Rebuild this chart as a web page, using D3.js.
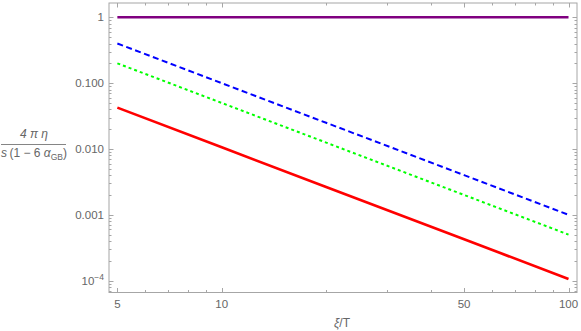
<!DOCTYPE html>
<html>
<head>
<meta charset="utf-8">
<script src="https://cdn.jsdelivr.net/npm/d3@7"></script>
<style>
  body { margin: 0; background: #fff; }
  svg { display: block; font-family: "Liberation Sans", Arial, sans-serif; }
</style>
</head>
<body>
<svg id="chart" width="581" height="331"></svg>
<script>
// ---- data ----
const xValues = [5, 10, 20, 50, 100];
const purpleSeries = [1, 1, 1, 1, 1];
const blueSeries = [0.4, 0.1, 0.025, 0.004, 0.001];
const greenSeries = [0.2, 0.05, 0.0125, 0.002, 0.0005];
const redSeries = [0.0425, 0.0106, 0.00265, 0.000424, 0.000106];

const xMajorTicks = [5, 10, 50, 100];
const xMajorLabels = ["5", "10", "50", "100"];
const xMinorTicks = [6, 7, 8, 9, 20, 30, 40, 60, 70, 80, 90];
const yMajorTicks = [1e-4, 1e-3, 1e-2, 0.1, 1];
const yMajorLabels = ["10^-4", "0.001", "0.010", "0.100", "1"];
const yMinorTicks = [7e-5, 8e-5, 9e-5,
  2e-4, 3e-4, 4e-4, 5e-4, 6e-4, 7e-4, 8e-4, 9e-4,
  2e-3, 3e-3, 4e-3, 5e-3, 6e-3, 7e-3, 8e-3, 9e-3,
  0.02, 0.03, 0.04, 0.05, 0.06, 0.07, 0.08, 0.09,
  0.2, 0.3, 0.4, 0.5, 0.6, 0.7, 0.8, 0.9];

(function () {
const svg = d3.select("#chart");
const pLeft = 109, pRight = 577, pTop = 3, pBottom = 292.5;
const x = d3.scaleLog().domain([4.73, 105.8]).range([pLeft, pRight]);
const y = d3.scaleLog().domain([6.6e-5, 1.65]).range([pBottom, pTop]);

const frameColor = "#a6a6a6";
const textColor = "#666666";

svg.append("rect")
  .attr("x", pLeft).attr("y", pTop)
  .attr("width", pRight - pLeft).attr("height", pBottom - pTop)
  .attr("fill", "none").attr("stroke", frameColor).attr("stroke-width", 1);

const g = svg.append("g");

function xTicks(vals, len) {
  vals.forEach(v => {
    const px = Math.round(x(v)) + 0.5;
    g.append("line").attr("x1", px).attr("x2", px).attr("y1", pBottom).attr("y2", pBottom - len)
      .attr("stroke", frameColor).attr("stroke-width", 1);
    g.append("line").attr("x1", px).attr("x2", px).attr("y1", pTop).attr("y2", pTop + len)
      .attr("stroke", frameColor).attr("stroke-width", 1);
  });
}
xTicks(xMajorTicks, 4.5);
xTicks(xMinorTicks, 2.5);

function yTicks(vals, len) {
  vals.forEach(v => {
    const py = Math.round(y(v)) + 0.5;
    g.append("line").attr("x1", pLeft).attr("x2", pLeft + len).attr("y1", py).attr("y2", py)
      .attr("stroke", frameColor).attr("stroke-width", 1);
    g.append("line").attr("x1", pRight).attr("x2", pRight - len).attr("y1", py).attr("y2", py)
      .attr("stroke", frameColor).attr("stroke-width", 1);
  });
}
yTicks(yMajorTicks, 4.5);
yTicks(yMinorTicks, 2.5);

xMajorTicks.forEach((v, i) => {
  svg.append("text").attr("x", x(v)).attr("y", pBottom + 15)
    .attr("text-anchor", "middle").attr("font-size", 11.5).attr("fill", textColor)
    .text(xMajorLabels[i]);
});

yMajorTicks.forEach((v, i) => {
  const lab = yMajorLabels[i];
  const t = svg.append("text").attr("x", pLeft - 5).attr("y", y(v) + 4)
    .attr("text-anchor", "end").attr("font-size", 11.5).attr("fill", textColor);
  if (lab.includes("^")) {
    const [base, exp] = lab.split("^");
    t.append("tspan").text(base);
    t.append("tspan").attr("font-size", 8.5).attr("dy", -4.5).text(exp.replace("-", "\u2212"));
  } else {
    t.text(lab);
  }
});

const line = d3.line().x(d => x(d[0])).y(d => y(d[1]));
const series = [
  { values: purpleSeries, color: "#800080", width: 2.6, dash: null },
  { values: blueSeries, color: "#0000ff", width: 2, dash: "6,3.5" },
  { values: greenSeries, color: "#00ff00", width: 2, dash: "3,3" },
  { values: redSeries, color: "#ff0000", width: 2.6, dash: null }
];
series.forEach(s => {
  svg.append("path")
    .datum(xValues.map((xv, i) => [xv, s.values[i]]))
    .attr("d", line)
    .attr("fill", "none").attr("stroke", s.color)
    .attr("stroke-width", s.width)
    .attr("stroke-dasharray", s.dash);
});

svg.append("text").attr("x", 342).attr("y", 327)
  .attr("text-anchor", "middle").attr("font-size", 12).attr("fill", textColor)
  .html('<tspan font-style="italic">ξ</tspan>/T');

const yl = svg.append("g").attr("fill", textColor).attr("font-size", 12);
yl.append("text").attr("x", 34).attr("y", 138).attr("text-anchor", "middle")
  .attr("font-style", "italic").text("4 π η");
yl.append("line").attr("x1", 1).attr("x2", 66).attr("y1", 144.5).attr("y2", 144.5)
  .attr("stroke", textColor).attr("stroke-width", 0.8);
const den = yl.append("text").attr("x", 34).attr("y", 157).attr("text-anchor", "middle");
den.append("tspan").attr("font-style", "italic").text("s");
den.append("tspan").text("\u2009(1 \u2212 6 ");
den.append("tspan").attr("font-style", "italic").text("α");
den.append("tspan").attr("font-size", 8.5).attr("dy", 2.5).text("GB");
den.append("tspan").attr("dy", -2.5).text(")");
})();
</script>
</body>
</html>
